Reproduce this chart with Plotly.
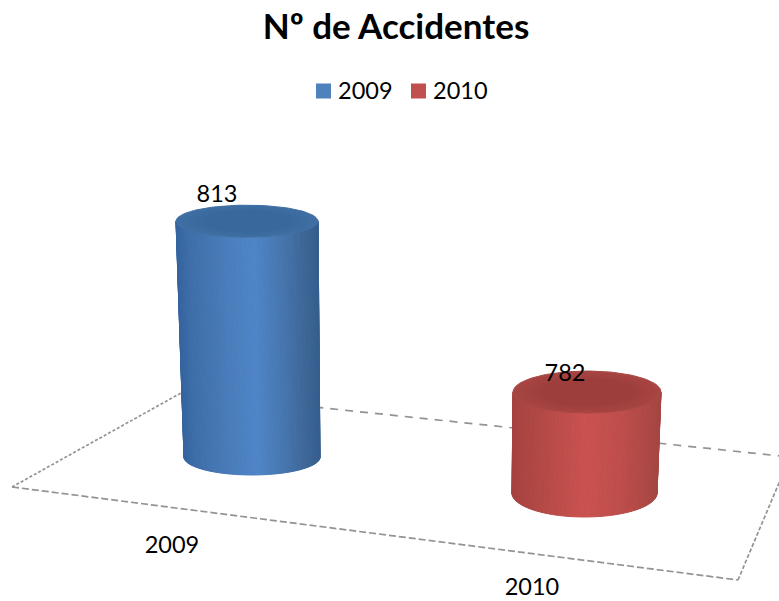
import numpy as np
import plotly.graph_objects as go

# data
categories = ['2009', '2010']
accidents = [813, 782]
axis_min = 760

legend_colors = ['#4F81BD', '#C0504D']

# cylinder geometry (screen space, the height comes from the value)
base_x = [252, 584.5]
base_y = [457, 493]
lean = [-5, 2.5]
unit_px = [4.45, 4.59]
rx_bottom = [68, 72.5]
rx_top = [71, 74]
ry_bottom = [18, 24]
ry_top = [16, 21]

body_stops = [
    [(0, '#36659f'), (.1, '#3f6fa9'), (.35, '#4a7dbb'), (.55, '#4f86c8'), (.75, '#4776ae'), (.9, '#3e6798'), (1, '#375f8e')],
    [(0, '#a54240'), (.15, '#b04845'), (.5, '#ca5350'), (.75, '#be4e4b'), (1, '#a54643')],
]
cap_rim = ['#3f6fa3', '#a84644']
cap_mid = ['#39689c', '#9e3e3c']

label_xy = [(217, 196.5), (565, 375)]
cat_xy = [(172, 547), (532, 589.5)]
legend_marker_x = [323.5, 418.5]
legend_text_x = [338, 433]
legend_y = 91


def hex_rgb(c):
    return np.array([int(c[i:i + 2], 16) for i in (1, 3, 5)], dtype=float)


def mix(stops, u):
    pos = [s[0] for s in stops]
    rgb = np.array([hex_rgb(s[1]) for s in stops])
    vals = [np.interp(u, pos, rgb[:, k]) for k in range(3)]
    return 'rgb(%d,%d,%d)' % tuple(vals)


def blend(c1, c2, u):
    a = hex_rgb(c1) * (1 - u) + hex_rgb(c2) * u
    return 'rgb(%d,%d,%d)' % tuple(a)


fig = go.Figure()

for i, val in enumerate(accidents):
    top_y = base_y[i] - (val - axis_min) * unit_px[i]
    top_x = base_x[i] + lean[i]
    edges = np.sin(np.linspace(-np.pi / 2, np.pi / 2, 91))
    for a, b in zip(edges[:-1], edges[1:]):
        ts = np.array([a, b, b, a, a])
        is_top = np.array([1, 1, 0, 0, 1])
        xs = np.where(is_top, top_x + rx_top[i] * ts, base_x[i] + rx_bottom[i] * ts)
        arc = np.sqrt(1 - np.minimum(ts ** 2, 1))
        ys = np.where(is_top, top_y + ry_top[i] * arc, base_y[i] + ry_bottom[i] * arc)
        col = mix(body_stops[i], (a + b + 2) / 4)
        fig.add_trace(go.Scatter(x=xs.tolist(), y=ys.tolist(), mode='lines', fill='toself',
                                 fillcolor=col, line=dict(color=col, width=1),
                                 hoverinfo='skip', showlegend=False))
    ang = np.linspace(0, 2 * np.pi, 121)
    for k, f in enumerate(np.linspace(1, .6, 8)):
        col = blend(cap_rim[i], cap_mid[i], k / 7)
        fig.add_trace(go.Scatter(x=(top_x + rx_top[i] * f * np.cos(ang)).tolist(),
                                 y=(top_y + ry_top[i] * f * np.sin(ang)).tolist(),
                                 mode='lines', fill='toself', fillcolor=col,
                                 line=dict(color=col, width=1),
                                 hoverinfo='skip', showlegend=False))

text_font = dict(family='Lato', size=23.5, color='#000000')
fig.add_trace(go.Scatter(x=[p[0] for p in label_xy], y=[p[1] for p in label_xy],
                         text=[str(v) for v in accidents], mode='text', textfont=text_font,
                         hoverinfo='skip', showlegend=False))
fig.add_trace(go.Scatter(x=[p[0] for p in cat_xy], y=[p[1] for p in cat_xy],
                         text=categories, mode='text', textfont=text_font,
                         hoverinfo='skip', showlegend=False))

# legend drawn by hand, the built-in one can't get this tight
fig.add_trace(go.Scatter(x=legend_marker_x, y=[legend_y] * 2, mode='markers',
                         marker=dict(symbol='square', size=15, color=legend_colors),
                         hoverinfo='skip', showlegend=False))
fig.add_trace(go.Scatter(x=legend_text_x, y=[legend_y + 2] * 2, mode='text', text=categories,
                         textposition='middle right', textfont=text_font,
                         hoverinfo='skip', showlegend=False))

# floor of the 3d box
floor = dict(color='#939393', width=1.7)
shapes = []
for (x0, y0, x1, y1, dash) in [
    (12, 487, 738, 580, '7px,3px'),
    (738, 580, 790, 457, '4px,2px'),
    (181, 393, 790, 457, '8px,7px'),
    (12, 487, 181, 393, '3px,2px'),
]:
    shapes.append(dict(type='line', x0=x0, y0=y0, x1=x1, y1=y1, layer='below',
                       line=dict(floor, dash=dash)))

fig.update_layout(
    width=779, height=601,
    title=dict(text='<b>Nº de Accidentes</b>', x=396 / 779, xanchor='center',
               y=1 - 27 / 601, yanchor='middle',
               font=dict(family='Lato', size=35, color='#000000')),
    showlegend=False,
    xaxis=dict(range=[0, 779], visible=False, fixedrange=True),
    yaxis=dict(range=[601, 0], visible=False, fixedrange=True),
    shapes=shapes,
    margin=dict(l=0, r=0, t=0, b=0),
    paper_bgcolor='white', plot_bgcolor='white',
)

# drop the default page margin so the figure fills the window
fig.write_html("out.html", config=dict(displayModeBar=False),
               post_script="document.body.style.margin='0';")
